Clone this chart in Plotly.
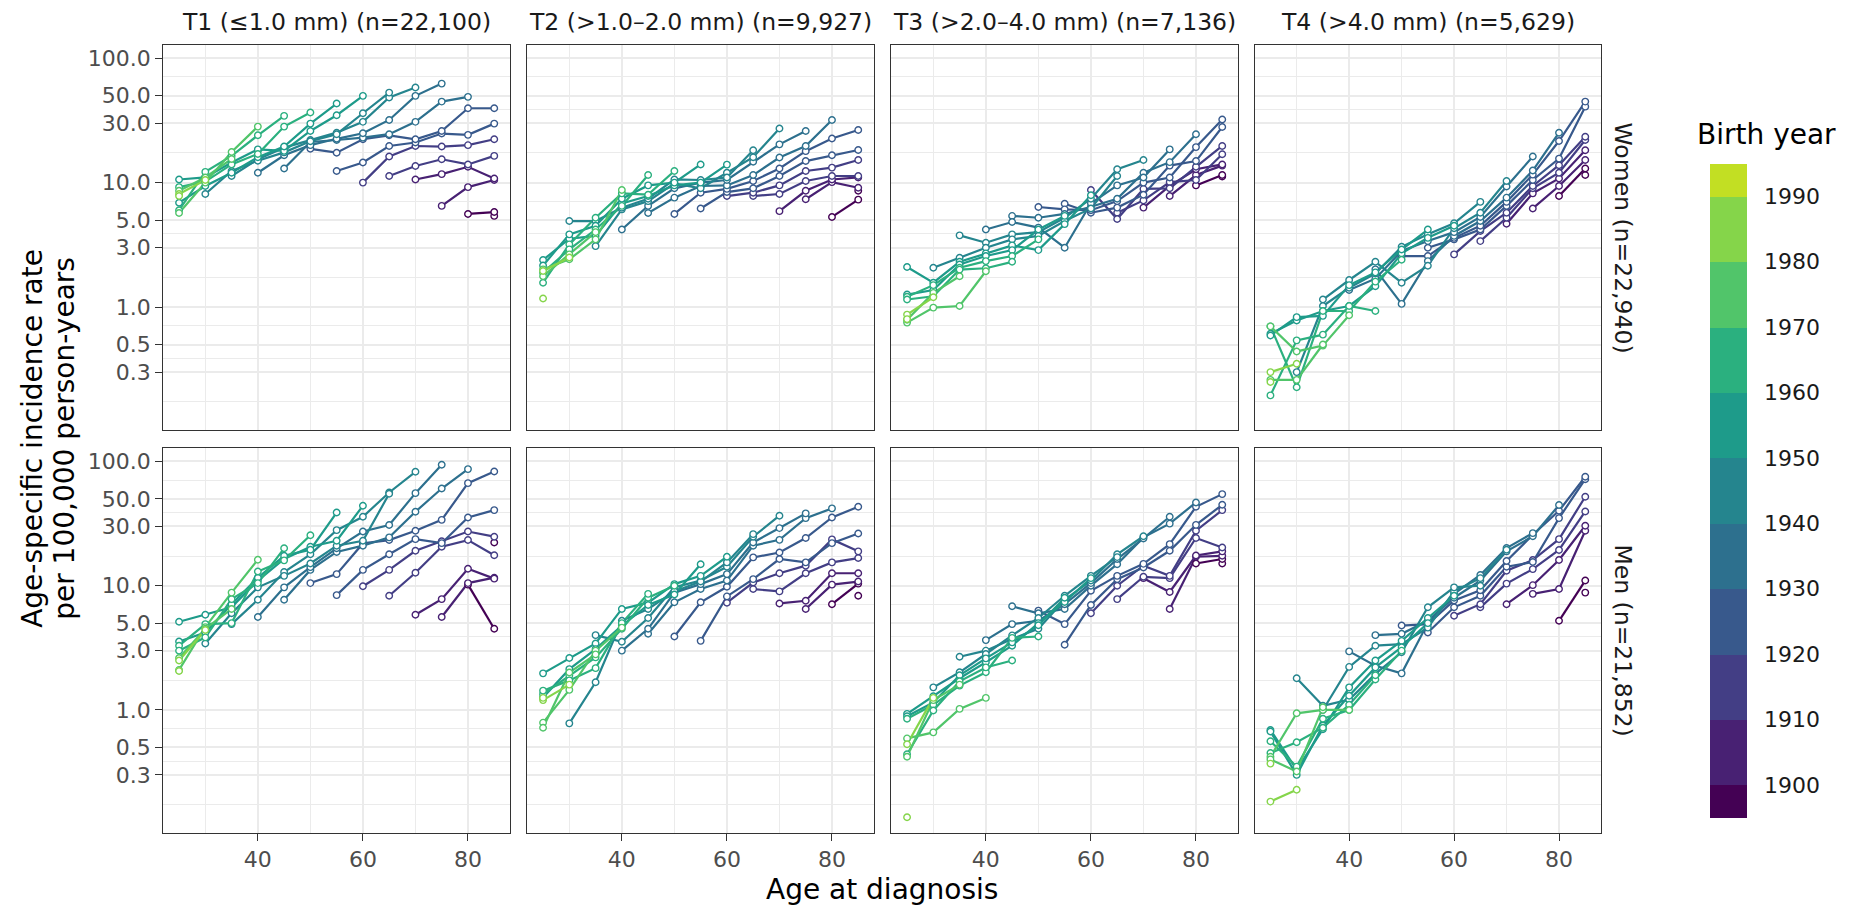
import math
import plotly.graph_objects as go

# ---------------- data ----------------
AGES = [25, 30, 35, 40, 45, 50, 55, 60, 65, 70, 75, 80, 85]
PERIODS = [1975, 1980, 1985, 1990, 1995, 2000, 2005, 2010]   # birth year = period - age

STAGE_LABELS = ["T1 (≤1.0 mm) (n=22,100)", "T2 (>1.0–2.0 mm) (n=9,927)",
                "T3 (>2.0–4.0 mm) (n=7,136)", "T4 (>4.0 mm) (n=5,629)"]
SEX_LABELS = ["Women (n=22,940)", "Men (n=21,852)"]

# rates per 100,000: rows = AGES, columns = PERIODS
T1_WOMEN = [
    [10.6, 6.9, 9.2, 6.0, 5.7, 8.6, 8.1, 7.8],
    [8.1, 11.0, 9.4, 10.2, 12.2, 10.0, 11.0, 10.5],
    [11.3, 12.4, 14.5, 12.0, 14.0, 16.4, 17.6, 15.5],
    [12.0, 15.4, 15.0, 18.5, 16.0, 17.0, 24.0, 28.2],
    [13.0, 16.6, 19.1, 17.5, 18.0, 19.5, 28.2, 34.4],
    [18.7, 21.2, 20.0, 22.0, 21.5, 26.0, 29.8, 36.6],
    [12.4, 17.4, 22.0, 22.5, 25.2, 24.5, 34.8, 43.2],
    [10.0, 14.5, 22.3, 23.0, 24.9, 30.8, 36.1, 49.8],
    [11.3, 16.2, 19.7, 24.0, 24.5, 31.9, 48.3, 52.9],
    [10.6, 13.6, 19.7, 21.0, 22.3, 30.8, 49.8, 58.1],
    [6.5, 11.7, 15.4, 19.5, 24.8, 26.0, 44.8, 62.5],
    [5.6, 9.2, 13.4, 14.0, 20.0, 24.2, 39.6, 48.9],
    [5.4, 5.8, 10.5, 10.8, 16.4, 22.3, 29.8, 39.6],
]
T2_WOMEN = [
    [2.39, 2.16, 1.57, 1.89, 2.01, 1.77, 1.95, 1.17],
    [4.91, 3.54, 3.84, 3.19, 2.91, 2.42, 2.65, 2.5],
    [3.09, 4.91, 3.73, 4.5, 5.22, 4.2, 3.5, 4.0],
    [4.2, 6.1, 6.29, 6.81, 7.43, 8.2, 6.5, 8.72],
    [5.7, 6.5, 7.1, 7.43, 7.8, 9.5, 8.0, 11.5],
    [5.6, 7.57, 9.0, 9.86, 10.6, 9.5, 10.0, 12.4],
    [6.2, 8.3, 9.4, 10.0, 9.0, 10.5, 10.0, 14.0],
    [7.8, 8.4, 8.9, 9.5, 10.5, 12.0, 11.0, 13.96],
    [7.8, 8.3, 9.0, 10.3, 11.5, 14.7, 16.0, 18.2],
    [5.9, 8.1, 9.5, 11.3, 13.0, 15.9, 20.3, 27.2],
    [7.35, 8.6, 10.3, 12.4, 14.9, 17.9, 19.7, 26.0],
    [5.3, 10.1, 10.6, 11.3, 13.2, 16.6, 22.6, 31.9],
    [8.6, 7.3, 9.1, 11.0, 11.3, 15.2, 18.3, 26.5],
]
T3_WOMEN = [
    [2.10, 1.26, 1.21, 1.15, 0.75, 0.79, 0.87, 0.8],
    [2.07, 1.57, 1.37, 1.5, 1.22, 0.99, 1.3, 1.2],
    [3.77, 2.49, 2.31, 2.2, 2.07, 2.0, 1.02, 1.77],
    [4.2, 3.29, 3.0, 2.7, 2.57, 2.34, 2.05, 1.94],
    [5.4, 4.82, 3.84, 3.5, 3.13, 2.87, 2.57, 2.31],
    [6.37, 5.22, 4.35, 4.0, 3.73, 2.87, 4.2, 3.5],
    [6.77, 6.1, 5.6, 3.0, 5.22, 4.91, 4.64, 5.4],
    [8.72, 5.73, 6.0, 6.4, 6.83, 7.43, 6.2, 7.91],
    [5.73, 5.1, 6.3, 7.1, 7.43, 9.5, 12.8, 11.3],
    [6.3, 7.2, 8.9, 8.0, 10.0, 12.0, 11.0, 15.2],
    [7.8, 9.4, 10.1, 9.0, 13.7, 11.0, 14.6, 18.5],
    [9.5, 11.5, 12.8, 10.5, 13.4, 14.9, 19.3, 24.5],
    [11.2, 11.5, 13.7, 14.0, 16.9, 19.7, 28.0, 32.2],
]
T4_WOMEN = [
    [0.61, 0.59, 0.70, 0.195, 0.70, 0.26, 0.30, 0.25],
    [0.30, 0.78, 0.83, 0.227, 0.54, 0.44, 0.26, 0.35],
    [1.15, 1.02, 0.93, 0.85, 0.93, 0.60, 0.49, 0.5],
    [1.37, 1.65, 1.43, 1.02, 1.5, 0.93, 1.02, 0.86],
    [2.01, 1.69, 2.31, 1.86, 1.47, 1.9, 1.6, 0.93],
    [2.57, 1.06, 2.82, 1.57, 3.05, 2.7, 2.9, 2.4],
    [3.0, 2.57, 2.34, 3.39, 2.15, 3.84, 3.6, 4.2],
    [2.65, 3.5, 3.6, 3.73, 4.0, 4.3, 4.71, 4.5],
    [3.39, 4.08, 4.2, 4.5, 4.91, 5.3, 5.73, 7.0],
    [4.67, 5.22, 5.73, 6.5, 7.0, 7.57, 9.3, 10.3],
    [6.2, 8.2, 9.0, 9.4, 10.5, 11.6, 12.5, 16.2],
    [7.8, 9.4, 10.8, 12.0, 13.8, 15.6, 21.6, 25.2],
    [11.5, 13.0, 15.2, 18.2, 22.0, 23.4, 40.8, 44.8],
]
T1_MEN = [
    [5.13, 3.56, 3.29, 3.0, 2.10, 2.62, 2.5, 2.06],
    [3.43, 5.84, 4.2, 4.91, 3.84, 4.64, 4.5, 4.4],
    [4.91, 6.0, 6.7, 7.1, 5.0, 7.8, 8.8, 6.5],
    [5.6, 7.7, 9.7, 11.0, 11.6, 13.0, 10.5, 16.2],
    [7.7, 9.7, 12.9, 12.0, 16.4, 17.4, 16.0, 20.0],
    [10.5, 13.4, 14.1, 17.9, 15.1, 20.6, 19.5, 25.5],
    [8.4, 12.4, 18.7, 20.0, 28.0, 21.0, 23.0, 38.8],
    [9.9, 13.4, 21.9, 21.0, 27.3, 35.9, 23.0, 44.0],
    [8.3, 13.4, 17.9, 23.3, 24.5, 30.8, 56.3, 55.0],
    [5.84, 12.7, 19.1, 23.7, 27.7, 39.4, 55.6, 82.6],
    [5.6, 7.8, 20.6, 22.8, 22.0, 33.9, 60.6, 94.0],
    [10.2, 10.5, 13.7, 23.3, 27.3, 35.4, 66.9, 86.8],
    [22.3, 4.5, 11.6, 11.4, 17.6, 24.8, 40.6, 83.1],
]
T2_MEN = [
    [1.97, 1.26, 1.34, 1.43, 0.79, 0.72, 1.20, 1.25],
    [0.78, 2.62, 2.13, 1.89, 1.73, 1.45, 2.0, 1.6],
    [4.0, 1.67, 3.43, 3.09, 2.65, 2.17, 3.0, 2.8],
    [3.0, 3.54, 5.22, 6.5, 4.78, 4.5, 5.0, 4.6],
    [4.1, 4.5, 5.5, 6.5, 7.3, 7.0, 8.0, 8.6],
    [3.9, 7.35, 8.8, 9.7, 9.0, 10.3, 8.5, 10.0],
    [3.6, 7.35, 9.4, 10.3, 11.0, 10.8, 12.0, 14.9],
    [7.3, 8.2, 9.8, 11.0, 12.4, 14.2, 15.4, 17.1],
    [9.4, 10.6, 11.3, 16.9, 21.0, 22.3, 24.8, 26.0],
    [7.2, 9.0, 12.6, 16.4, 18.5, 23.4, 29.1, 36.6],
    [6.5, 7.57, 12.6, 14.5, 15.4, 24.2, 35.0, 38.2],
    [7.1, 10.2, 12.6, 15.4, 23.6, 22.0, 35.4, 41.9],
    [8.3, 10.4, 10.8, 12.6, 16.7, 18.9, 26.3, 43.2],
]
T3_MEN = [
    [0.93, 0.89, 0.85, 0.44, 0.59, 0.42, 0.53, 0.137],
    [1.52, 1.29, 1.15, 1.10, 0.99, 0.66, 1.2, 1.25],
    [2.68, 2.01, 1.80, 1.9, 1.57, 1.7, 1.02, 1.6],
    [3.65, 3.0, 2.82, 2.42, 2.6, 2.01, 2.2, 1.25],
    [6.83, 4.91, 3.73, 3.98, 3.29, 3.5, 3.8, 2.5],
    [6.3, 6.0, 5.22, 4.5, 5.5, 5.0, 4.8, 3.9],
    [3.35, 4.91, 6.5, 7.1, 7.7, 8.3, 7.4, 8.0],
    [6.0, 7.0, 9.1, 10.0, 10.5, 11.0, 12.0, 11.5],
    [7.8, 10.0, 11.3, 12.0, 14.9, 16.4, 17.9, 17.0],
    [11.5, 11.8, 14.5, 14.0, 15.0, 24.5, 24.0, 25.0],
    [6.5, 8.9, 11.5, 12.0, 19.1, 21.6, 31.6, 35.9],
    [15.1, 17.1, 17.5, 24.2, 27.7, 30.9, 43.2, 46.8],
    [15.1, 16.4, 17.4, 18.9, 20.3, 40.6, 44.8, 54.6],
]
T4_MEN = [
    [0.69, 0.67, 0.56, 0.45, 0.42, 0.40, 0.183, 0.37],
    [1.80, 0.33, 0.30, 0.35, 0.55, 0.94, 0.32, 0.228],
    [1.0, 1.08, 0.70, 0.75, 0.85, 0.72, 1.0, 1.05],
    [2.96, 2.22, 1.21, 1.52, 1.3, 1.0, 1.1, 1.0],
    [4.0, 2.27, 3.29, 1.95, 2.5, 2.2, 1.76, 1.9],
    [4.78, 4.1, 1.97, 3.39, 2.91, 3.6, 3.2, 3.0],
    [4.2, 4.91, 5.22, 5.0, 4.6, 6.7, 5.5, 5.0],
    [5.73, 6.7, 7.6, 8.0, 8.6, 9.0, 9.7, 8.3],
    [6.7, 7.1, 8.3, 9.2, 11.0, 12.2, 11.5, 10.0],
    [7.1, 10.4, 13.2, 14.2, 15.8, 18.9, 20.1, 19.5],
    [8.6, 10.1, 13.6, 16.1, 15.5, 25.7, 25.0, 26.5],
    [5.22, 9.4, 16.1, 19.4, 23.7, 35.0, 40.1, 44.6],
    [8.8, 11.0, 27.7, 30.4, 39.6, 52.0, 72.0, 75.3],
]

PANEL_DATA = [[T1_WOMEN, T2_WOMEN, T3_WOMEN, T4_WOMEN],
              [T1_MEN, T2_MEN, T3_MEN, T4_MEN]]

Y_BREAKS = [0.1, 0.3, 0.5, 1, 3, 5, 10, 30, 50, 100]
Y_LABELS = ["0.1", "0.3", "0.5", "1.0", "3.0", "5.0", "10.0", "30.0", "50.0", "100.0"]
X_BREAKS = [40, 60, 80]
X_MINOR = [30, 50, 70]

BIN_EDGES = [1895, 1900, 1910, 1920, 1930, 1940, 1950, 1960, 1970, 1980, 1990, 1995]
BIN_COLORS = ["#440154", "#482173", "#433E85", "#38598C", "#2D708E", "#25858E",
              "#1E9B8A", "#2BB07F", "#51C56A", "#85D54A", "#C2DF23"]
CBAR_TICKS = [1900, 1910, 1920, 1930, 1940, 1950, 1960, 1970, 1980, 1990]

# ---------------- layout constants (pixels) ----------------
W, H = 1858, 907
PANEL_X = [(163.3, 510.0), (527.3, 874.0), (891.3, 1238.0), (1254.7, 1601.0)]
PANEL_Y = [(45.0, 430.0), (448.3, 832.7)]
FONT = "DejaVu Sans"
TICK_SIZE = 22
STRIP_SIZE = 23.5
TITLE_SIZE = 28


def color_for(year):
    for j in range(len(BIN_COLORS)):
        if year < BIN_EDGES[j + 1]:
            return BIN_COLORS[j]
    return BIN_COLORS[-1]


Y_MINOR = [math.sqrt(Y_BREAKS[i] * Y_BREAKS[i + 1]) for i in range(len(Y_BREAKS) - 1)]

fig = go.Figure()

for r in range(2):
    for c in range(4):
        n = r * 4 + c + 1
        xref = "x" if n == 1 else f"x{n}"
        yref = "y" if n == 1 else f"y{n}"
        mat = PANEL_DATA[r][c]
        cohorts = sorted({PERIODS[p] - AGES[i] for i in range(len(AGES)) for p in range(len(PERIODS))})
        px_, py_, pc_ = [], [], []
        for coh in cohorts:
            xs, ys = [], []
            for i, a in enumerate(AGES):
                for p, per in enumerate(PERIODS):
                    if per - a == coh and mat[i][p] is not None:
                        xs.append(a)
                        ys.append(mat[i][p])
            col = color_for(coh)
            if len(xs) >= 2:
                fig.add_trace(go.Scatter(x=xs, y=ys, mode="lines", xaxis=xref, yaxis=yref,
                                         line=dict(color=col, width=2.2), hoverinfo="skip",
                                         showlegend=False))
            px_ += xs
            py_ += ys
            pc_ += [col] * len(xs)
        fig.add_trace(go.Scatter(x=px_, y=py_, mode="markers", xaxis=xref, yaxis=yref,
                                 marker=dict(symbol="circle", size=6.5, color="white",
                                             line=dict(color=pc_, width=1.4)),
                                 hoverinfo="skip", showlegend=False))

        x0, x1 = PANEL_X[c]
        y0, y1 = PANEL_Y[r]
        xdom = [x0 / W, x1 / W]
        ydom = [1 - y1 / H, 1 - y0 / H]
        bottom = (r == 1)
        left = (c == 0)
        fig.layout[("xaxis" if n == 1 else f"xaxis{n}")] = dict(
            domain=xdom, anchor=yref, range=[22, 88],
            tickmode="array", tickvals=X_BREAKS, ticktext=[str(v) for v in X_BREAKS],
            showticklabels=bottom, ticks="outside" if bottom else "", ticklen=7,
            tickwidth=1.3, tickcolor="#333333",
            tickfont=dict(family=FONT, size=TICK_SIZE, color="#4D4D4D"),
            showgrid=True, gridcolor="#EBEBEB", gridwidth=1.8,
            minor=dict(tickvals=X_MINOR, showgrid=True, gridcolor="#EBEBEB", gridwidth=0.9, ticks=""),
            showline=True, mirror=True, linecolor="#333333", linewidth=1.3, zeroline=False,
        )
        fig.layout[("yaxis" if n == 1 else f"yaxis{n}")] = dict(
            domain=ydom, anchor=xref, type="log", range=[-0.988, 2.106],
            tickmode="array", tickvals=Y_BREAKS, ticktext=Y_LABELS,
            showticklabels=left, ticks="outside" if left else "", ticklen=7,
            tickwidth=1.3, tickcolor="#333333",
            tickfont=dict(family=FONT, size=TICK_SIZE, color="#4D4D4D"),
            showgrid=True, gridcolor="#EBEBEB", gridwidth=1.8,
            minor=dict(tickvals=Y_MINOR, showgrid=True, gridcolor="#EBEBEB", gridwidth=0.9, ticks=""),
            showline=True, mirror=True, linecolor="#333333", linewidth=1.3, zeroline=False,
        )

# colour bar (binned birth year)
cscale = []
lo, hi = BIN_EDGES[0], BIN_EDGES[-1]
for j, col in enumerate(BIN_COLORS):
    cscale.append([(BIN_EDGES[j] - lo) / (hi - lo), col])
    cscale.append([(BIN_EDGES[j + 1] - lo) / (hi - lo), col])

CB_TOP, CB_BOT, CB_LEFT, CB_W = 163.5, 817.7, 1710.0, 37.0
fig.add_trace(go.Scatter(
    x=[50], y=[10], mode="markers", xaxis="x", yaxis="y", hoverinfo="skip", showlegend=False,
    marker=dict(size=0.1, opacity=0, color=[1950], colorscale=cscale, cmin=lo, cmax=hi,
                showscale=True,
                colorbar=dict(x=CB_LEFT / W, xanchor="left", xpad=0,
                              y=1 - (CB_TOP + CB_BOT) / 2 / H, yanchor="middle", ypad=0,
                              len=CB_BOT - CB_TOP, lenmode="pixels",
                              thickness=CB_W, thicknessmode="pixels", outlinewidth=0,
                              tickmode="array", tickvals=CBAR_TICKS,
                              ticktext=[str(v) for v in CBAR_TICKS],
                              ticks="outside", ticklen=13, tickcolor="rgba(0,0,0,0)",
                              tickfont=dict(family=FONT, size=TICK_SIZE, color="#1A1A1A"))),
))

shapes = []
for yr in CBAR_TICKS:
    ypix = CB_TOP + (hi - yr) / (hi - lo) * (CB_BOT - CB_TOP)
    yp = 1 - ypix / H
    for xa, xb in [(CB_LEFT, CB_LEFT + 6), (CB_LEFT + CB_W - 6, CB_LEFT + CB_W)]:
        shapes.append(dict(type="line", xref="paper", yref="paper", x0=xa / W, x1=xb / W,
                           y0=yp, y1=yp, line=dict(color="white", width=1.2)))

annotations = []
for c, lab in enumerate(STAGE_LABELS):
    x0, x1 = PANEL_X[c]
    annotations.append(dict(text=lab, x=(x0 + x1) / 2 / W, y=1 - 22 / H, xref="paper", yref="paper",
                            showarrow=False, xanchor="center", yanchor="middle",
                            font=dict(family=FONT, size=STRIP_SIZE, color="#1A1A1A")))
for r, lab in enumerate(SEX_LABELS):
    y0, y1 = PANEL_Y[r]
    annotations.append(dict(text=lab, x=1623 / W, y=1 - (y0 + y1) / 2 / H, xref="paper", yref="paper",
                            showarrow=False, xanchor="center", yanchor="middle", textangle=90,
                            font=dict(family=FONT, size=STRIP_SIZE, color="#1A1A1A")))
annotations.append(dict(text="Age at diagnosis", x=(PANEL_X[0][0] + PANEL_X[3][1]) / 2 / W, y=1 - 889 / H,
                        xref="paper", yref="paper", showarrow=False, xanchor="center", yanchor="middle",
                        font=dict(family=FONT, size=TITLE_SIZE, color="black")))
ymid = 1 - (PANEL_Y[0][0] + PANEL_Y[1][1]) / 2 / H
annotations.append(dict(text="Age-specific incidence rate", x=33 / W, y=ymid, xref="paper", yref="paper",
                        showarrow=False, xanchor="center", yanchor="middle", textangle=-90,
                        font=dict(family=FONT, size=TITLE_SIZE, color="black")))
annotations.append(dict(text="per 100,000 person-years", x=65 / W, y=ymid, xref="paper", yref="paper",
                        showarrow=False, xanchor="center", yanchor="middle", textangle=-90,
                        font=dict(family=FONT, size=TITLE_SIZE, color="black")))
annotations.append(dict(text="Birth year", x=1766 / W, y=1 - 134 / H, xref="paper", yref="paper",
                        showarrow=False, xanchor="center", yanchor="middle",
                        font=dict(family=FONT, size=TITLE_SIZE, color="black")))

fig.update_layout(width=W, height=H, margin=dict(l=0, r=0, t=0, b=0),
                  paper_bgcolor="white", plot_bgcolor="white", showlegend=False,
                  shapes=shapes, annotations=annotations)

fig.write_html("out.html")
